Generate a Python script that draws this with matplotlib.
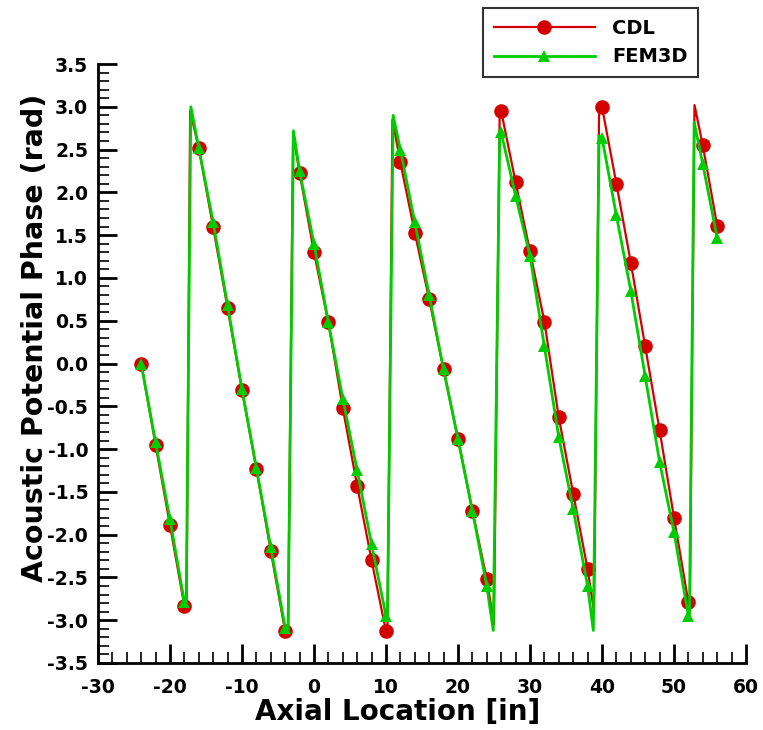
import numpy as np
import matplotlib.pyplot as plt
from matplotlib.ticker import MultipleLocator

# ----- marker samples (every 2 in) -----
x_pts = np.arange(-24, 57, 2)

cdl_y = [0.00, -0.95, -1.89, -2.83, 2.52, 1.59, 0.65, -0.31, -1.23, -2.19, -3.13,
         2.23, 1.30, 0.48, -0.52, -1.43, -2.30, -3.13, 2.35, 1.53, 0.75, -0.07,
         -0.88, -1.72, -2.52, 2.95, 2.12, 1.31, 0.49, -0.63, -1.52, -2.40, 3.00,
         2.10, 1.18, 0.20, -0.78, -1.80, -2.79, 2.55, 1.61]

fem_y = [0.00, -0.92, -1.82, -2.79, 2.52, 1.65, 0.68, -0.30, -1.22, -2.15, -3.09,
         2.25, 1.40, 0.48, -0.41, -1.25, -2.11, -2.95, 2.50, 1.65, 0.80, -0.07,
         -0.88, -1.72, -2.60, 2.70, 1.96, 1.26, 0.20, -0.86, -1.70, -2.60, 2.64,
         1.73, 0.85, -0.15, -1.15, -1.97, -2.95, 2.33, 1.47]

# ----- phase wrap points (last point before / first point after the jump) -----
cdl_wrap_x = [-17.7, -17.2, -3.6, -2.9, 10.2, 10.9, 25.0, 25.8, 38.9, 39.6, 52.2, 52.85]
cdl_wrap_y = [-2.86, 2.95, -3.14, 2.68, -3.13, 2.85, -3.05, 3.00, -2.90, 3.00, -2.90, 3.02]

fem_wrap_x = [-17.75, -17.1, -3.6, -2.85, 10.2, 11.0, 24.9, 25.8, 38.8, 39.6, 52.15, 52.8]
fem_wrap_y = [-2.84, 3.00, -3.12, 2.72, -3.00, 2.90, -3.12, 2.72, -3.12, 2.66, -2.97, 2.82]


def merge(xm, ym, xw, yw):
    xs = np.concatenate([xm, xw])
    ys = np.concatenate([ym, yw])
    order = np.argsort(xs, kind="stable")
    is_mark = np.concatenate([np.ones(len(xm), bool), np.zeros(len(xw), bool)])[order]
    return xs[order], ys[order], list(np.where(is_mark)[0])


red = "#d40000"
green = "#00cc00"

plt.rcParams["font.family"] = ["DejaVu Sans"]
plt.rcParams["font.weight"] = "bold"
plt.rcParams["axes.unicode_minus"] = False

fig = plt.figure(figsize=(7.63, 7.30), dpi=100)
ax = fig.add_axes([0.1284, 0.0918, 0.8493, 0.8205])

cx, cy, cm = merge(x_pts, cdl_y, cdl_wrap_x, cdl_wrap_y)
fx, fy, fm = merge(x_pts, fem_y, fem_wrap_x, fem_wrap_y)

ax.plot(cx, cy, color=red, lw=1.6, marker="o", ms=10.5, markevery=cm,
        markeredgewidth=0, label="CDL")
ax.plot(fx, fy, color=green, lw=2.0, marker="^", ms=9, markevery=fm,
        markeredgewidth=0, label="FEM3D")

ax.set_xlim(-30, 60)
ax.set_ylim(-3.5, 3.5)
ax.xaxis.set_major_locator(MultipleLocator(10))
ax.xaxis.set_minor_locator(MultipleLocator(2))
ax.yaxis.set_major_locator(MultipleLocator(0.5))
ax.yaxis.set_minor_locator(MultipleLocator(0.1))
ax.yaxis.set_major_formatter(plt.FuncFormatter(lambda v, p: f"{v:.1f}"))

for s in ["top", "right"]:
    ax.spines[s].set_visible(False)
for s in ["left", "bottom"]:
    ax.spines[s].set_linewidth(2)

ax.tick_params(which="major", direction="in", length=14, width=2, labelsize=13.5)
ax.tick_params(axis="x", which="major", pad=11)
ax.tick_params(axis="y", which="major", pad=7)
ax.tick_params(which="minor", direction="in", length=8, width=1.2)

ax.set_xlabel("Axial Location [in]", fontsize=20, fontweight="bold", va="center")
ax.set_ylabel("Acoustic Potential Phase (rad)", fontsize=20.5, fontweight="bold", va="center")
ax.xaxis.set_label_coords(0.463, -0.082)
ax.yaxis.set_label_coords(-0.097, 0.543)

leg = fig.legend(loc="upper left", bbox_to_anchor=(0.633, 0.989), fontsize=14,
                 frameon=True, fancybox=False, handlelength=5.2, borderpad=0.55,
                 labelspacing=0.5, handletextpad=0.9, borderaxespad=0,
                 edgecolor="black")
leg.get_frame().set_linewidth(1.5)

fig.savefig("out.png", dpi=100)
